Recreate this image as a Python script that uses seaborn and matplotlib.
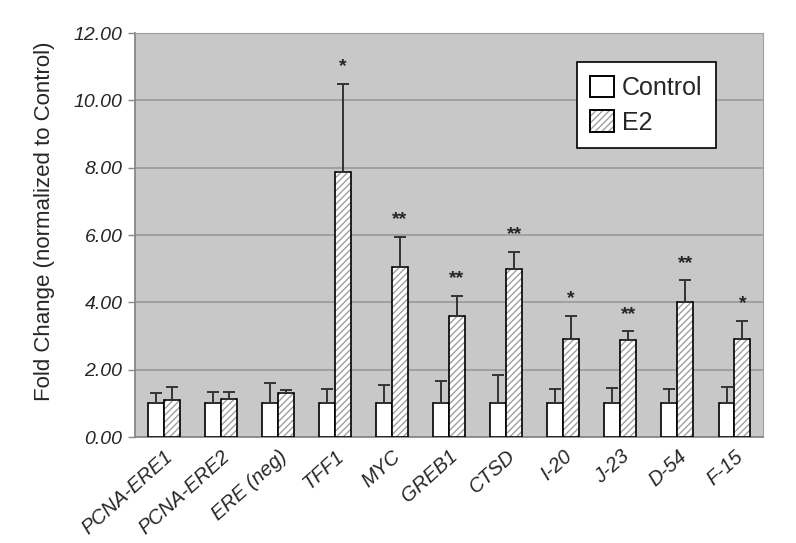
import numpy as np
import pandas as pd
import seaborn as sns
import matplotlib.pyplot as plt
from matplotlib.colors import to_rgba
from matplotlib.ticker import FixedLocator

genes = ["PCNA-ERE1", "PCNA-ERE2", "ERE (neg)", "TFF1", "MYC", "GREB1",
         "CTSD", "I-20", "J-23", "D-54", "F-15"]
control_mean = [1.0, 1.0, 1.0, 1.0, 1.0, 1.0, 1.0, 1.0, 1.0, 1.0, 1.0]
control_err = [0.30, 0.35, 0.60, 0.42, 0.53, 0.65, 0.85, 0.42, 0.45, 0.42, 0.48]
e2_mean = [1.10, 1.12, 1.30, 7.88, 5.05, 3.60, 5.00, 2.90, 2.88, 4.02, 2.92]
e2_err = [0.40, 0.23, 0.10, 2.62, 0.90, 0.60, 0.50, 0.70, 0.27, 0.63, 0.53]
stars = ["", "", "", "*", "**", "**", "**", "*", "**", "**", "*"]

df = pd.DataFrame({
    "gene": genes * 2,
    "group": ["Control"] * len(genes) + ["E2"] * len(genes),
    "value": control_mean + e2_mean,
})

HATCH_COL = "#a0a0a0"


def gray_hatch(p):
    # black outline, light gray hatch lines
    p.set_hatch("/////")
    p.set_edgecolor("black")
    if hasattr(p, "set_hatchcolor"):
        p.set_hatchcolor(HATCH_COL)
    else:
        p._hatch_color = to_rgba(HATCH_COL)


sns.set_style("white")
plt.rcParams["font.family"] = ["Liberation Sans", "DejaVu Sans"]
plt.rcParams["hatch.linewidth"] = 1.0

fig = plt.figure(figsize=(7.96, 5.43), dpi=100)
ax = fig.add_axes([0.1696, 0.1952, 0.789, 0.7440])
ax.set_facecolor("#c8c8c8")

sns.barplot(data=df, x="gene", y="value", hue="group", order=genes,
            palette={"Control": "white", "E2": "white"}, edgecolor="black",
            linewidth=1.2, width=0.56, errorbar=None, ax=ax, zorder=3)

e2_patches = ax.containers[1].patches
for p in e2_patches:
    gray_hatch(p)

# one-sided error bars
for cont, errs in zip(ax.containers[:2], [control_err, e2_err]):
    xs = [p.get_x() + p.get_width() / 2 for p in cont.patches]
    hs = [p.get_height() for p in cont.patches]
    ax.errorbar(xs, hs, yerr=[np.zeros(len(errs)), errs], fmt="none",
                ecolor="#333333", elinewidth=1.4, capsize=4, capthick=1.4, zorder=5)

# significance stars above E2 error bars
for p, e, s in zip(e2_patches, e2_err, stars):
    if s:
        ax.text(p.get_x() + p.get_width() / 2, p.get_height() + e + 0.5, s,
                ha="center", va="center", fontsize=14, fontweight="bold", zorder=6)

ax.set_ylim(0, 12)
ax.set_xlim(-0.5, len(genes) - 0.5)
ax.yaxis.set_major_locator(FixedLocator(np.arange(0, 12.01, 2)))
ax.set_yticklabels([f"{v:.2f}" for v in np.arange(0, 12.01, 2)],
                   fontsize=14, style="italic")
ax.grid(axis="y", color="#9a9a9a", lw=1.2, zorder=0)
ax.set_axisbelow(True)

ax.set_xticks(range(len(genes)))
ax.set_xticklabels(genes, rotation=42, ha="right", rotation_mode="anchor",
                   fontsize=14.5, style="italic")
ax.tick_params(axis="x", which="major", length=0, pad=7)
ax.xaxis.set_minor_locator(FixedLocator(np.arange(-0.5, len(genes), 1)))
ax.tick_params(axis="x", which="minor", length=5, color="#888888", width=1)
ax.tick_params(axis="y", length=5, color="#888888", width=1, left=True, pad=4)

for side in ["top", "right"]:
    ax.spines[side].set_color("#a0a0a0")
for side in ["left", "bottom"]:
    ax.spines[side].set_color("#888888")
    ax.spines[side].set_linewidth(1.3)

ax.set_xlabel("")
ax.set_ylabel("Fold Change (normalized to Control)", fontsize=16)
ax.yaxis.set_label_coords(-0.128, 0.535)

leg = ax.legend(loc="upper right", bbox_to_anchor=(0.925, 0.928), fontsize=18,
                frameon=True, fancybox=False, edgecolor="black", framealpha=1,
                borderaxespad=0, handlelength=0.95, handleheight=0.95,
                handletextpad=0.3, borderpad=0.55, labelspacing=0.4)
leg.get_frame().set_linewidth(1.2)
for h in leg.get_patches():
    h.set_edgecolor("black")
    h.set_linewidth(1.4)
gray_hatch(leg.get_patches()[1])

fig.savefig("out.png", dpi=100)
